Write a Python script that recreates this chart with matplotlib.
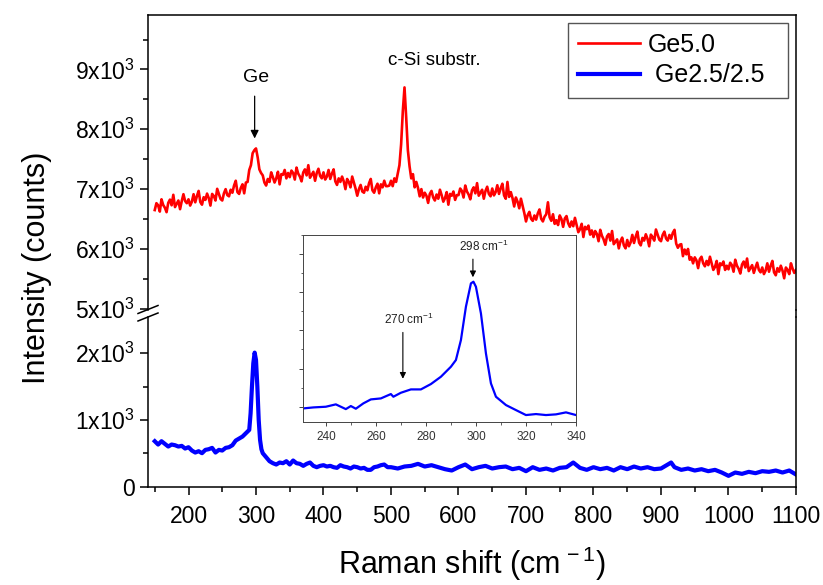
import numpy as np
import matplotlib.pyplot as plt
from matplotlib.lines import Line2D
from matplotlib.ticker import FixedLocator, MultipleLocator, NullFormatter

plt.rcParams['font.family'] = ['Liberation Sans', 'DejaVu Sans']
plt.rcParams['mathtext.fontset'] = 'custom'
plt.rcParams['mathtext.rm'] = 'Liberation Sans'
plt.rcParams['mathtext.it'] = 'Liberation Sans:italic'

# Ge5.0 spectrum (red), 2.5 cm-1 steps from 150 to 1100, one row = 50 cm-1
red_shift = np.arange(150, 1100.1, 2.5)
red_counts = [
    6650, 6765, 6730, 6625, 6830, 6735, 6690, 6615, 6770, 6825, 6730, 6905, 6700, 6755, 6810, 6665, 6800, 6915, 6800, 6765,
    6830, 6725, 6790, 6915, 6780, 6885, 6970, 6785, 6740, 6865, 6820, 6925, 6850, 6725, 6920, 6885, 6810, 7005, 6920, 6835,
    6810, 6930, 7000, 6900, 6880, 6990, 6940, 7060, 7140, 6950, 6920, 7020, 7080, 6930, 7110, 7120, 7320, 7400, 7600, 7650,
    7680, 7530, 7330, 7270, 7230, 7110, 7060, 7170, 7120, 7280, 7200, 7110, 7180, 7290, 7080, 7250, 7240, 7320, 7180, 7270,
    7200, 7310, 7270, 7160, 7360, 7260, 7210, 7130, 7280, 7330, 7230, 7400, 7190, 7240, 7290, 7140, 7270, 7340, 7220, 7180,
    7280, 7160, 7210, 7320, 7170, 7260, 7330, 7130, 7070, 7180, 7120, 7210, 7130, 7000, 7170, 7120, 7030, 7210, 7110, 7010,
    6890, 7000, 7070, 6960, 6940, 7040, 6980, 7100, 7170, 6980, 6940, 7030, 7090, 6930, 7080, 7030, 7140, 7050, 7050, 7060,
    7140, 7050, 7180, 7120, 7260, 7400, 7750, 8300, 8700, 8200, 7650, 7380, 7180, 7250, 7030, 7120, 7020, 6880, 7000, 6860,
    6940, 6890, 6770, 6920, 6970, 6860, 6810, 6910, 6840, 6990, 6900, 6790, 6850, 6950, 6740, 6920, 6890, 6960, 6820, 6900,
    6900, 7010, 6970, 6860, 7060, 6960, 6910, 6830, 6980, 7030, 6930, 7100, 6890, 6940, 6990, 6840, 6970, 7040, 6920, 6880,
    7010, 6895, 6950, 7065, 6920, 7015, 7090, 6895, 6840, 7120, 6870, 6950, 6850, 6710, 6860, 6790, 6680, 6840, 6720, 6600,
    6460, 6565, 6620, 6505, 6470, 6560, 6490, 6595, 6660, 6505, 6460, 6540, 6580, 6780, 6530, 6470, 6580, 6420, 6480, 6400,
    6560, 6500, 6370, 6510, 6550, 6430, 6370, 6460, 6380, 6520, 6400, 6280, 6330, 6420, 6200, 6370, 6330, 6390, 6240, 6310,
    6200, 6300, 6250, 6130, 6320, 6220, 6160, 6070, 6210, 6250, 6140, 6300, 6080, 6120, 6160, 6010, 6130, 6190, 6060, 6010,
    6150, 6045, 6110, 6235, 6100, 6205, 6290, 6105, 6060, 6185, 6140, 6245, 6170, 6045, 6240, 6195, 6140, 6325, 6240, 6155,
    6130, 6235, 6290, 6175, 6140, 6235, 6170, 6270, 6320, 6090, 6020, 6070, 6080, 5880, 5990, 5910, 6000, 5820, 5860, 5760,
    5860, 5810, 5680, 5830, 5870, 5760, 5710, 5800, 5730, 5870, 5760, 5650, 5700, 5800, 5580, 5760, 5730, 5790, 5650, 5720,
    5660, 5770, 5730, 5620, 5820, 5720, 5670, 5590, 5740, 5790, 5690, 5840, 5630, 5680, 5730, 5600, 5690, 5770, 5650, 5610,
    5690, 5580, 5640, 5760, 5620, 5720, 5800, 5610, 5560, 5680, 5620, 5720, 5640, 5510, 5690, 5650, 5580, 5760, 5670, 5600,
    5650,
]

# Ge2.5/2.5 spectrum (blue)
blue_shift = [
    150, 155, 160, 165, 170, 175, 180, 185, 190, 195,
    200, 205, 210, 215, 220, 225, 230, 235, 240, 245,
    250, 255, 260, 265, 270, 275, 280, 285, 290, 292,
    294, 296, 298, 300, 302, 304, 306, 308, 310, 315,
    320, 325, 330, 335, 340, 345, 350, 355, 360, 365,
    370, 375, 380, 385, 390, 395, 400, 405, 410, 415,
    420, 425, 430, 435, 440, 445, 450, 455, 460, 465,
    470, 475, 480, 485, 490, 495, 500, 510, 520, 530,
    540, 550, 560, 570, 580, 590, 600, 610, 620, 630,
    640, 650, 660, 670, 680, 690, 700, 710, 720, 730,
    740, 750, 760, 770, 780, 790, 800, 810, 820, 830,
    840, 850, 860, 870, 880, 890, 900, 910, 915, 920,
    930, 940, 950, 960, 970, 980, 990, 1000, 1010, 1020,
    1030, 1040, 1050, 1060, 1070, 1080, 1090, 1100,
]
blue_counts = [
    680, 630, 680, 640, 600, 630, 620, 600, 610, 570,
    590, 540, 510, 530, 500, 550, 560, 580, 510, 550,
    540, 580, 590, 620, 690, 720, 750, 800, 850, 1100,
    1500, 1850, 2010, 1900, 1500, 1000, 700, 560, 500, 440,
    380, 350, 330, 360, 350, 380, 330, 390, 350, 340,
    310, 340, 360, 310, 290, 310, 320, 300, 310, 290,
    280, 320, 300, 290, 270, 300, 290, 270, 280, 250,
    250, 290, 300, 320, 330, 290, 290, 270, 300, 310,
    340, 300, 320, 290, 260, 240, 290, 330, 260, 290,
    310, 270, 290, 300, 260, 280, 230, 290, 250, 270,
    240, 280, 290, 360, 280, 250, 290, 260, 280, 240,
    290, 260, 300, 270, 290, 260, 270, 330, 360, 290,
    250, 270, 240, 260, 230, 250, 210, 160, 210, 190,
    220, 200, 230, 220, 240, 210, 240, 180,
]

# inset: zoom of the Ge2.5/2.5 Ge-Ge band
inset_shift = [231, 235, 240, 244, 248, 250, 252, 255, 258, 262,
               266, 267, 270, 274, 278, 282, 286, 290, 292, 294,
               296, 298, 299, 300, 302, 304, 306, 308, 312, 316,
               320, 324, 328, 332, 336, 340]
inset_counts = [478, 491, 500, 531, 469, 509, 474, 544, 596, 609,
                666, 631, 683, 727, 727, 797, 893, 1024, 1112, 1373,
                1810, 2116, 2138, 2072, 1723, 1199, 806, 631, 522, 456,
                391, 404, 391, 400, 426, 391]

upper_ticks = [5000, 6000, 7000, 8000, 9000]
upper_labels = ['5x10$^3$', '6x10$^3$', '7x10$^3$', '8x10$^3$', '9x10$^3$']
lower_ticks = [0, 1000, 2000]
lower_labels = ['0', '1x10$^3$', '2x10$^3$']
x_ticks = [200, 300, 400, 500, 600, 700, 800, 900, 1000, 1100]

W, H = 823, 585
fig = plt.figure(figsize=(W / 100, H / 100), dpi=100)

left, right = 148, 796
top_up, bot_up = 15, 310
top_lo, bot_lo = 317, 486.5

def fr(x0, y0, x1, y1):
    return [x0 / W, 1 - y1 / H, (x1 - x0) / W, (y1 - y0) / H]

ax_up = fig.add_axes(fr(left, top_up, right, bot_up))
ax_lo = fig.add_axes(fr(left, top_lo, right, bot_lo))

lw_sp = 1.1
for ax in (ax_up, ax_lo):
    for s in ax.spines.values():
        s.set_linewidth(lw_sp)
    ax.set_xlim(140, 1100)
    ax.tick_params(axis='both', which='major', direction='out', length=6,
                   width=1.1, labelsize=16.5, right=False, top=False)
    ax.tick_params(axis='both', which='minor', direction='out', length=3.5,
                   width=1.1, right=False, top=False)

ax_up.plot(red_shift, red_counts, color='#ff0000', lw=1.9, label='Ge5.0')
ax_up.plot([], [], color='#0000ff', lw=3, label=' Ge2.5/2.5  ')
ax_lo.plot(blue_shift, blue_counts, color='#0000ff', lw=3)

ax_up.set_ylim(4980, 9910)
ax_lo.set_ylim(0, 2545)

ax_up.spines['bottom'].set_visible(False)
ax_lo.spines['top'].set_visible(False)
ax_up.tick_params(axis='x', which='both', bottom=False, labelbottom=False)

ax_up.yaxis.set_major_locator(FixedLocator(upper_ticks))
ax_up.set_yticklabels(upper_labels)
ax_up.yaxis.set_minor_locator(MultipleLocator(500))
ax_lo.yaxis.set_major_locator(FixedLocator(lower_ticks))
ax_lo.set_yticklabels(lower_labels)
ax_lo.yaxis.set_minor_locator(FixedLocator([500, 1500]))
ax_lo.xaxis.set_major_locator(FixedLocator(x_ticks))
ax_lo.xaxis.set_minor_locator(MultipleLocator(50))
ax_lo.tick_params(axis='x', pad=7)

ax_lo.set_xlabel('Raman shift (cm$^{\\,-1}$)', fontsize=22, labelpad=12)
fig.text(0.045, 0.543, 'Intensity (counts)', rotation=90, fontsize=22,
         ha='center', va='center')

# axis break marks and continuous right spine
for yc in (309.5, 317):
    fig.add_artist(Line2D([138 / W, 158 / W], [1 - (yc + 4) / H, 1 - (yc - 4) / H],
                          color='black', lw=1.1))
fig.add_artist(Line2D([right / W, right / W], [1 - bot_up / H, 1 - top_lo / H],
                      color='black', lw=lw_sp))

ax_up.annotate('', xy=(298, 7800), xytext=(298, 8600),
               arrowprops=dict(arrowstyle='-|>', color='black', lw=0.9,
                               mutation_scale=12))
ax_up.text(300, 8870, 'Ge', fontsize=14, ha='center', va='center')
ax_up.text(564, 9150, 'c-Si substr.', fontsize=13.5, ha='center', va='center')

leg = ax_up.legend(loc='upper right', fontsize=18, frameon=True, fancybox=False,
                   edgecolor='#555555', framealpha=1, handlelength=2.5,
                   borderaxespad=0.3, labelspacing=0.28, handletextpad=0.3,
                   borderpad=0.4)
leg.get_frame().set_linewidth(1.0)

# inset
axin = fig.add_axes(fr(303.3, 235, 576, 422))
axin.plot(inset_shift, inset_counts, color='#0000ff', lw=1.6)
axin.set_xlim(231, 340)
axin.set_ylim(300, 2750)
for s in axin.spines.values():
    s.set_linewidth(0.7)
    s.set_color('#444444')
axin.xaxis.set_major_locator(MultipleLocator(20))
axin.xaxis.set_minor_locator(MultipleLocator(10))
axin.yaxis.set_major_locator(MultipleLocator(500))
axin.yaxis.set_minor_locator(MultipleLocator(250))
axin.yaxis.set_major_formatter(NullFormatter())
axin.tick_params(axis='both', which='major', direction='out', length=3,
                 width=0.7, color='#444444', labelsize=8.5, labelcolor='#333333')
axin.tick_params(axis='both', which='minor', direction='out', length=1.8,
                 width=0.6, color='#444444')
axin.annotate('', xy=(298.8, 2160), xytext=(298.8, 2470),
              arrowprops=dict(arrowstyle='-|>', color='black', lw=0.8,
                              mutation_scale=9))
axin.text(303, 2600, '298 cm$^{-1}$', fontsize=8.5, ha='center', va='center',
          color='#222222')
axin.annotate('', xy=(270.8, 830), xytext=(270.8, 1510),
              arrowprops=dict(arrowstyle='-|>', color='black', lw=0.8,
                              mutation_scale=9))
axin.text(273.2, 1650, '270 cm$^{-1}$', fontsize=8.5, ha='center', va='center',
          color='#222222')

fig.savefig('out.png', dpi=100)
